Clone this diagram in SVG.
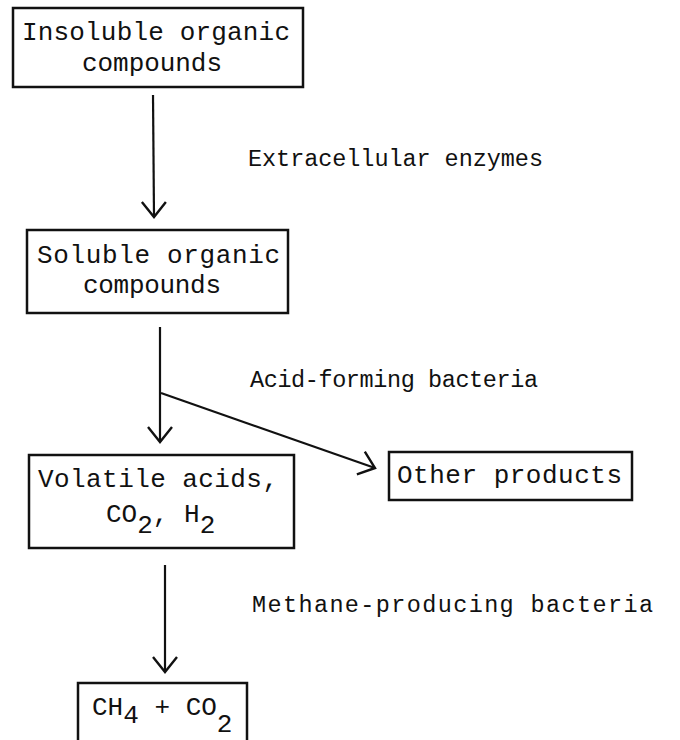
<svg xmlns="http://www.w3.org/2000/svg" width="680" height="740" viewBox="0 0 680 740">
<defs>
<style>
.box{fill:none;stroke:#111;stroke-width:2.5}
.t{font-family:"Liberation Mono","DejaVu Sans Mono",monospace;font-size:26px;fill:#111}
.lbl{font-family:"Liberation Mono","DejaVu Sans Mono",monospace;font-size:23.5px;fill:#111}
.edge{fill:none;stroke:#111;stroke-width:2.2}
</style>
<marker id="v" markerUnits="userSpaceOnUse" markerWidth="40" markerHeight="40" viewBox="-20 -20 40 40" refX="0" refY="0" orient="auto" overflow="visible">
<path d="M-15,-12 L0,0 L-15,12" fill="none" stroke="#111" stroke-width="2.4" stroke-linejoin="miter"/>
</marker>
</defs>
<rect width="680" height="740" fill="#fff"/>
<g id="n1">
<rect class="box" x="13" y="8" width="290" height="79"/>
<text class="t" x="22" y="40" textLength="268">Insoluble organic</text>
<text class="t" x="82" y="71" textLength="140">compounds</text>
</g>
<g id="n2">
<rect class="box" x="27" y="230" width="261" height="83"/>
<text class="t" x="37" y="263" textLength="243">Soluble organic</text>
<text class="t" x="83" y="293" textLength="138">compounds</text>
</g>
<g id="n3">
<rect class="box" x="29" y="455" width="265" height="93"/>
<text class="t" x="38" y="487" textLength="240">Volatile acids,</text>
<text class="t" x="106" y="522">CO<tspan dy="11">2</tspan><tspan dy="-11">, H</tspan><tspan dy="11">2</tspan></text>
</g>
<g id="n4">
<rect class="box" x="389" y="452" width="243" height="48"/>
<text class="t" x="397" y="483" textLength="225">Other products</text>
</g>
<g id="n5">
<rect class="box" x="78" y="683" width="169" height="65"/>
<text class="t" x="92" y="715">CH<tspan dy="8">4</tspan><tspan dy="-8"> + CO</tspan><tspan dy="17">2</tspan></text>
</g>
<g id="labels">
<text class="lbl" x="248" y="166" textLength="295">Extracellular enzymes</text>
<text class="lbl" x="250" y="387" textLength="288">Acid-forming bacteria</text>
<text class="lbl" x="252" y="612" textLength="401">Methane-producing bacteria</text>
</g>
<g id="connectors">
<line class="edge" x1="153" y1="95" x2="154" y2="217" marker-end="url(#v)"/>
<line class="edge" x1="160" y1="327" x2="160" y2="442" marker-end="url(#v)"/>
<line class="edge" x1="161" y1="393" x2="375" y2="468" marker-end="url(#v)"/>
<line class="edge" x1="165" y1="565" x2="165" y2="672" marker-end="url(#v)"/>
</g>
</svg>
